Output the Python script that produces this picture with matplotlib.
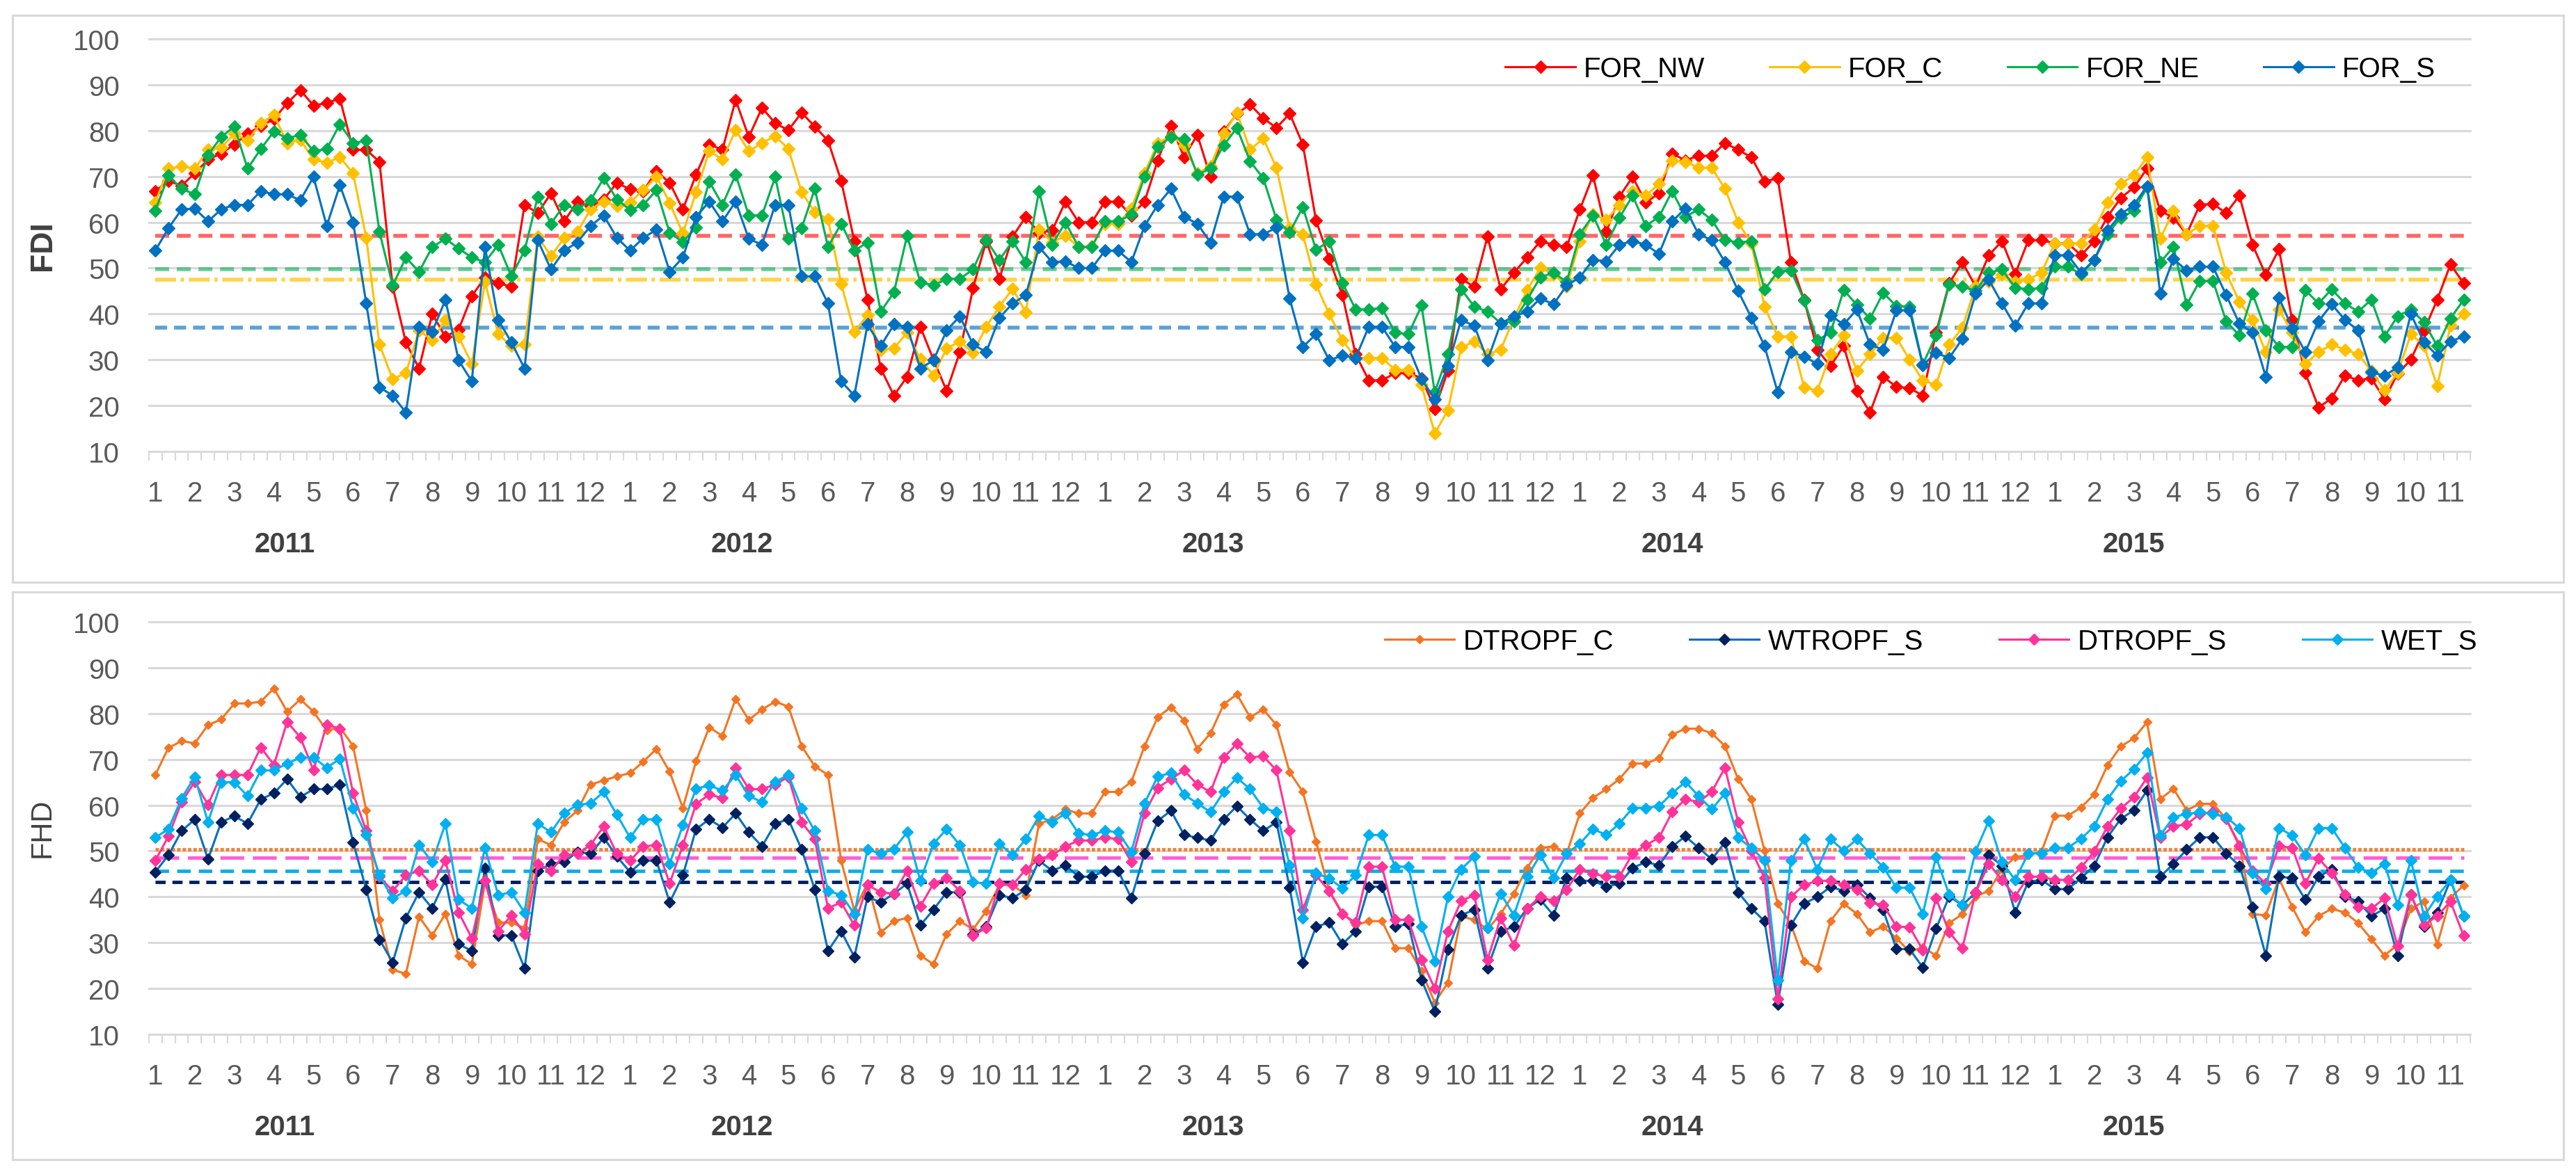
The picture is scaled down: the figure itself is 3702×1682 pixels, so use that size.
'''
FDI / FHD dekadal series 2011-2015, two stacked Excel-style line charts.
'''

import numpy as np
import matplotlib
matplotlib.use('Agg')
from matplotlib import pyplot as plt
from matplotlib.patches import Rectangle
from matplotlib.transforms import blended_transform_factory


plt.rcParams['font.family'] = ['Liberation Sans', 'DejaVu Sans']


#(0) Data (three dekads per month, Jan 2011 - Nov 2015):
years  = ['2011', '2012', '2013', '2014', '2015']
months = [str(m) for m in range(1, 13)]*4 + [str(m) for m in range(1, 12)]

for_nw = [66.8, 69, 68, 70.7, 73.7, 75, 77, 79.3, 81, 82.5, 86, 88.8, 85.5, 86, 87, 75.8, 75.8, 73.2, 46, 33.8, 28.1, 40, 35, 36.6, 43.9, 48, 46.7, 46, 63.8, 62, 66.3, 60.2, 64.5, 63.5, 65, 68.6,
          67.2, 66.8, 71.2, 68.6, 62.8, 70.4, 77, 75.8, 86.7, 78.6, 85, 81.6, 80.1, 83.9, 80.9, 77.8, 69.1, 55.9, 43.1, 28.1, 22.2, 26.3, 37.2, 30, 23.2, 31.7, 45.7, 55.9, 47.7, 56.9, 61.2, 57.7, 58.2, 64.5, 60, 60,
          64.5, 64.5, 61.5, 64.5, 73.5, 81.1, 74.2, 79.1, 69.9, 79.8, 83.7, 85.7, 82.7, 80.6, 83.7, 77, 60.4, 52, 44.1, 31.2, 25.5, 25.5, 27.1, 27.1, 26, 19.3, 27.6, 47.7, 45.9, 56.9, 45.4, 49, 52.3, 55.9, 55.1, 54.6,
          62.8, 70.2, 57.9, 65.6, 69.9, 64.3, 66.3, 75, 73.5, 74.5, 74.5, 77.3, 75.8, 74.2, 68.9, 69.6, 51.3, 43.1, 32.2, 28.6, 33, 23.2, 18.5, 26.3, 24.1, 23.8, 22.2, 35.9, 46.7, 51.3, 46, 52.8, 55.9, 48.7, 56.1, 56.1,
          55.4, 55.4, 52.8, 55.9, 61.2, 65.3, 67.6, 71.7, 62.5, 61, 57.4, 63.8, 64, 62, 65.8, 55.1, 48.5, 54.1, 38.7, 27.1, 19.6, 21.6, 26.6, 25.5, 26, 21.4, 27, 30, 36.4, 43.1, 50.8, 46.7]
for_c  = [64.3, 71.7, 72.2, 71.7, 75.8, 76.3, 79.3, 77.8, 81.6, 83.4, 77.3, 78, 73.7, 73, 74.2, 70.7, 56.6, 33.3, 25.8, 27.1, 36.4, 34.3, 38.7, 35, 29.1, 47, 35.6, 33, 33.3, 56.9, 52.6, 56.6, 57.9, 62.8, 64.5, 63.5,
          64.4, 67, 70, 64.2, 57.6, 66.6, 75.5, 73.7, 80.1, 75.5, 77.3, 78.8, 76, 66.6, 62.2, 60.7, 46.6, 36.1, 39.7, 32.2, 32.5, 35.9, 30.2, 26.6, 32.5, 34, 31.5, 37.2, 41.6, 45.5, 40.3, 58.4, 55.6, 57.1, 54.6, 54.8,
          59.7, 59.7, 63, 70.7, 77.3, 78.8, 76.8, 70.7, 72.2, 79.3, 83.9, 75.8, 78.3, 71.9, 58.7, 57.4, 46.4, 40, 34.3, 30.4, 30.4, 30.4, 27.8, 27.8, 24.5, 13.9, 19, 32.7, 34, 31.2, 32.2, 39, 45.2, 50, 48.7, 46,
          55.9, 61.7, 60.5, 63.8, 66.8, 65.8, 68.4, 73.5, 73.2, 71.9, 71.9, 67.3, 60, 55.4, 41.6, 35.1, 35.1, 24, 23.2, 31.2, 35.3, 27.6, 31.2, 34.8, 34.8, 30, 25.5, 24.5, 33.3, 37, 46, 47, 48.5, 47, 47.5, 49,
          55.4, 55.4, 55.4, 58.4, 64.3, 68.4, 70.2, 74.2, 56.4, 62.5, 57.4, 59.2, 59.2, 49, 42.6, 38.7, 31.7, 41, 36, 29.1, 31.7, 33.3, 32.2, 31.2, 27.6, 23.4, 27.1, 35.6, 33, 24.2, 37.4, 40]
for_ne = [62.5, 70.2, 67.3, 66.1, 74.7, 78.6, 80.9, 71.7, 76, 79.8, 78.3, 79.1, 75.5, 76, 81.4, 77.3, 77.8, 57.9, 46.2, 52.3, 49.2, 54.6, 56.4, 54.3, 52.3, 51.3, 55.1, 48.2, 53.8, 65.6, 59.7, 63.8, 62.8, 64.8, 69.6, 65,
          62.7, 63.8, 67, 57.7, 55.7, 58.9, 68.9, 63.8, 70.4, 61.5, 61.5, 69.9, 56.4, 58.7, 67.3, 54.6, 59.7, 53.8, 55.6, 40.5, 44.7, 57.1, 46.9, 46.2, 47.7, 47.7, 49.7, 56.1, 51.8, 55.9, 51.3, 66.8, 55.1, 60, 54.6, 54.6,
          60.2, 60.2, 61.7, 69.9, 76.5, 78.6, 78.1, 70.4, 71.7, 76.8, 80.6, 73.3, 69.6, 60.6, 57.8, 63.3, 54, 55.9, 46.8, 41, 41, 41.3, 35.9, 35.6, 41.8, 22.9, 31.2, 45.4, 41.6, 40.5, 38, 38.4, 43.1, 48, 49, 47,
          57.4, 61.5, 55.1, 61, 65.8, 59.2, 61.2, 66.8, 61.2, 62.8, 60.5, 56.1, 55.6, 55.9, 45.3, 49.2, 49.5, 43, 34.3, 35.9, 45.2, 42, 39, 44.6, 41.7, 41.6, 29, 35.3, 46.5, 46, 45, 49, 49.7, 45.7, 45.4, 45.7,
          50.3, 50.3, 48.7, 51.8, 57.4, 61, 62.5, 67.6, 51.3, 54.6, 42, 47.2, 47.2, 38.4, 35.3, 44.4, 36.4, 32.8, 32.8, 45.2, 42.3, 45.4, 42.3, 40.5, 43.1, 35.1, 39.5, 41, 38.2, 33, 39, 43.1]
for_s  = [53.8, 58.7, 62.8, 63, 60.2, 62.8, 63.8, 63.8, 66.8, 66.1, 66.1, 64.8, 69.9, 59.2, 68.1, 60, 42.3, 24, 22.2, 18.5, 37.2, 36.1, 43.1, 29.9, 25.3, 54.6, 38.7, 33.8, 28.1, 56.1, 49.7, 53.8, 55.6, 59.2, 61.5, 56.6,
          53.8, 56.6, 58.4, 49.2, 52.3, 61.2, 64.5, 60.2, 64.5, 56.4, 55.1, 63.8, 63.8, 48.2, 48.2, 42.3, 25.3, 22.2, 37.7, 33, 37.7, 37.2, 28.1, 29.9, 36.4, 39.5, 33.3, 31.7, 39.2, 42.3, 44.1, 54.6, 51.3, 51.5, 50, 50,
          53.8, 53.8, 51.3, 59.2, 63.8, 67.3, 61.2, 59.7, 55.6, 65.6, 65.6, 57.4, 57.4, 58.8, 43.4, 32.8, 35.6, 29.9, 30.9, 30.4, 37.2, 37.2, 32.8, 32.8, 25.8, 21.4, 28.6, 38.7, 37.4, 29.9, 37.9, 39.5, 40.5, 43.4, 42.1, 46.2,
          48, 51.8, 51.5, 55.1, 55.9, 55.1, 53.1, 60.2, 63, 57.4, 56.1, 51.3, 45, 39.2, 33, 22.9, 31.7, 30.7, 29.1, 39.7, 37.7, 41, 33.3, 32.2, 40.8, 40.8, 28.8, 31.5, 30.4, 34.6, 44.4, 47.5, 42.3, 37.4, 42.3, 42.3,
          52.8, 52.8, 49, 51.8, 58.2, 61.7, 63.8, 67.9, 44.4, 52, 49.5, 50.3, 50.3, 44.1, 37.9, 35.9, 26.3, 43.6, 36.9, 31.7, 38.4, 42.1, 38.7, 36.4, 27.3, 26.5, 28.4, 40, 33.8, 30.9, 34, 35.1]

dtropf_c = [66.6, 72.5, 74, 73.5, 77.5, 78.7, 82.2, 82.2, 82.6, 85.5, 80.4, 83.1, 80.4, 76.3, 77, 72.9, 58.8, 35, 24.1, 23.2, 35.7, 31.6, 36.3, 27.2, 25.3, 43.2, 34.4, 34.4, 33.2, 52.6, 51.3, 56.3, 58.8, 64.5, 65.4, 66.3,
            67, 69.5, 72.3, 67.3, 59.4, 69.6, 77, 75.1, 83.2, 78.6, 80.9, 82.6, 81.5, 72.9, 68.5, 66.6, 47.9, 37, 43, 32.2, 34.7, 35.4, 27.2, 25.3, 31.9, 34.7, 32.9, 36.9, 42.6, 42.6, 40.4, 56, 56.9, 59.1, 58.2, 58.2,
            62.9, 62.9, 65.1, 72.9, 79.2, 81.4, 78.5, 72.3, 75.7, 82, 84.2, 79.2, 80.9, 77.5, 67.2, 62.9, 52.1, 41.3, 36.5, 33.8, 34.7, 34.7, 28.8, 28.8, 23.8, 16.9, 21.3, 35.7, 35, 32.9, 36.3, 40.7, 46.3, 50.7, 51, 49.4,
            58.2, 61.6, 63.5, 65.7, 69.1, 69.1, 70.2, 75.4, 76.7, 76.7, 75.7, 72.9, 65.7, 61.3, 50.1, 38.5, 34, 26, 24.4, 34.7, 38.5, 36.3, 32.3, 33.5, 31, 28, 29, 27.2, 34.3, 36.2, 40.1, 41.3, 46, 48.7, 49.1, 49.9,
            57.7, 57.7, 59.5, 62.4, 68.7, 72.8, 74.6, 78.1, 61.3, 63.6, 58.9, 60.3, 60.3, 57, 51.5, 36.2, 36, 44, 37.8, 32.3, 35.8, 37.4, 36.6, 34.3, 30.8, 27.2, 29.6, 37.4, 39, 29.6, 39.8, 42.5]
wtropf_s = [45.4, 49.1, 54.4, 56.9, 48.2, 56.3, 57.6, 56, 61.3, 62.6, 65.7, 61.8, 63.5, 63.5, 64.5, 51.9, 41.6, 30.7, 25.7, 35.4, 41, 37.5, 43.8, 29.7, 28.2, 46.3, 31.6, 31.6, 24.4, 45.7, 47.2, 47.6, 49.8, 49.4, 52.9, 48.8,
            45.4, 47.9, 47.9, 38.8, 44.7, 54.8, 56.9, 55.1, 58.2, 54.1, 51, 56, 56.9, 50.4, 41.6, 28.2, 32.5, 26.9, 40, 38.8, 40.7, 42.9, 33.8, 37.2, 41, 41, 31.9, 33.5, 40.4, 39.7, 41.6, 47.9, 45.7, 46.9, 44.4, 44.4,
            45.7, 45.7, 39.7, 49.4, 56.6, 58.8, 53.5, 52.9, 52.3, 56.9, 59.8, 56.9, 54.4, 56.3, 42, 25.7, 33.5, 34.4, 29.7, 32.5, 42.2, 42.2, 33.5, 34.1, 21.9, 15, 28.5, 36, 37.2, 24.4, 32.5, 33.5, 37.5, 39.4, 36, 44.1,
            43.5, 43.5, 42.2, 42.9, 46.3, 47.6, 46.9, 51, 53.2, 50.7, 48.2, 51.9, 41, 37.5, 34.7, 16.6, 33.8, 38.5, 40, 42.2, 41.3, 42.6, 39.8, 37.1, 28.6, 28.6, 24.6, 33, 40.1, 38.2, 40.9, 49.1, 46.8, 36.6, 43.3, 43.7,
            41.7, 41.7, 44.1, 46.8, 53, 57, 58.9, 63.2, 44.4, 47.2, 50.3, 53, 53, 49.5, 46.8, 37.8, 27.2, 44.4, 44.1, 39.4, 44.4, 46, 40.1, 39, 35.8, 37.4, 27.2, 40.5, 33.5, 36.6, 43.7, 35.8]
dtropf_s = [47.9, 53.2, 60.7, 65.1, 60.1, 66.6, 66.6, 66.6, 72.6, 68.8, 78.2, 74.8, 67.6, 77.6, 76.7, 62.6, 54.4, 44.4, 41.3, 44.7, 45.7, 42.6, 47.9, 36.6, 31, 43.5, 32.5, 36, 31.9, 47.2, 45.7, 49.1, 49.4, 51.3, 55.4, 49.4,
            47.9, 51, 51.3, 42.9, 51.3, 60.3, 62.3, 61.6, 68.2, 63.5, 63.5, 64.5, 66.2, 56.3, 52.6, 37.5, 38.8, 33.8, 42.6, 41, 40.7, 45.7, 37.9, 42.9, 44.1, 41.3, 31.6, 33.2, 42.9, 42.6, 46, 48.2, 49.1, 51, 52.3, 52.3,
            52.9, 52.6, 47.6, 58.2, 63.8, 65.7, 67.6, 64.5, 62.9, 70.4, 73.4, 70.4, 70.7, 67.6, 54.4, 37.2, 44.7, 41.3, 36.2, 34.4, 46.6, 46.6, 35, 35, 26.3, 20, 32.5, 39.1, 40.4, 26.3, 35.4, 29.4, 37.5, 40, 39.1, 41.6,
            46, 45.1, 44.4, 44.4, 49.4, 51.3, 52.9, 58.5, 61.3, 60.7, 62.9, 68.2, 56.3, 50.1, 44.1, 17.8, 40, 42.6, 43.5, 43.5, 42.6, 41.5, 38.7, 38.3, 33.5, 33.4, 28.4, 39.7, 32.3, 28.8, 40.9, 47.2, 43.7, 40.1, 44.4, 44.4,
            43.7, 43.7, 46.4, 49.9, 55.4, 59.3, 61.7, 66, 53, 55.4, 55.8, 58.1, 58.5, 57, 51.1, 45.6, 42.9, 51.1, 50.7, 42.9, 48.4, 45.2, 40.5, 37.8, 37.4, 39.7, 29.2, 40.5, 33.9, 35.8, 39, 31.5]
wet_s    = [52.9, 54.8, 61.5, 66.2, 56.3, 65, 65, 62, 67.6, 67.6, 69.1, 70.4, 70.4, 68.2, 70.1, 59.4, 53.5, 44.7, 39.7, 41.3, 51.3, 47.6, 56, 39.4, 37.5, 50.7, 40.4, 41, 36.6, 56, 54.1, 58.2, 60.1, 60.4, 62.9, 57.9,
            52.9, 56.9, 56.9, 47.2, 55.7, 63.6, 64.3, 63.2, 66.6, 62, 60.7, 65.1, 66.6, 59.4, 54.4, 41.3, 40.4, 36.3, 50.4, 49.4, 50.4, 54.1, 43.5, 51.6, 54.8, 51.3, 43.2, 42.9, 51.6, 49.1, 52.6, 57.6, 56.3, 58.2, 53.8, 53.5,
            54.4, 54.1, 49.8, 60.4, 66.3, 67, 62.3, 60.4, 58.5, 62.9, 66, 63.5, 59.4, 58.5, 46.9, 35.4, 45.2, 44, 41.9, 44.7, 53.5, 53.5, 46.6, 46.6, 33.5, 26, 40, 46, 48.8, 33.2, 40.7, 36, 44.4, 49.1, 44.1, 49.4,
            51.6, 54.8, 53.5, 56, 59.4, 59.4, 59.8, 62.6, 65.1, 62, 59.1, 62.6, 52.9, 50.7, 47.9, 21.9, 47.9, 52.6, 46, 52.6, 50.1, 52.6, 49.4, 46.5, 42, 42, 36.3, 48.7, 40.5, 38.2, 49.9, 56.6, 47.6, 43.7, 49.5, 49.5,
            50.7, 50.7, 52.7, 55.4, 61.3, 65.2, 67.9, 71.4, 53.4, 57.4, 58.1, 58.5, 58.1, 57.4, 55, 45.2, 41.7, 55, 53.4, 49.1, 55, 55, 50.7, 46.4, 45.2, 47.2, 38.2, 48, 35.8, 40.1, 43.7, 35.8]

### long-term means drawn as horizontal reference lines
fdi_means = {'FOR_NW': 57.0, 'FOR_C': 47.5, 'FOR_NE': 49.7, 'FOR_S': 37.0}
fhd_means = {'DTROPF_C': 50.3, 'WTROPF_S': 43.3, 'DTROPF_S': 48.6, 'WET_S': 45.7}

fdi_names = ['FOR_NW', 'FOR_C', 'FOR_NE', 'FOR_S']
fhd_names = ['DTROPF_C', 'WTROPF_S', 'DTROPF_S', 'WET_S']
fdi_data  = [for_nw, for_c, for_ne, for_s]
fhd_data  = [dtropf_c, wtropf_s, dtropf_s, wet_s]


#(1) Styles:
W, H     = 3702, 1683
grid_c   = '#D9D9D9'
tick_c   = '#595959'
fs       = 29
fdi_line = ['#FF0000', '#FFC000', '#00B050', '#0070C0']
fdi_mark = fdi_line
fdi_ms   = [9, 9, 9, 9]
fdi_mean_ls = [(0, (3.6, 2.0)), (0, (5.4, 1.2, 0.9, 1.2)), (0, (3.6, 2.0)), (0, (3.1, 1.8))]
fdi_mean_c  = ['#FF0000', '#FFC000', '#00B050', '#0070C0']
fhd_line = ['#F47521', '#0070C0', '#FF3399', '#00B0F0']
fhd_mark = ['#F47521', '#002060', '#FF3399', '#00B0F0']
fhd_ms   = [6.5, 8.5, 8.5, 8.5]
fhd_mean_ls = [(0, (1.0, 0.6)), (0, (3.0, 2.0)), (0, (7.0, 2.6)), (0, (4.0, 2.4))]
fhd_mean_c  = ['#F47521', '#002060', '#FF33CC', '#00B0F0']

x = np.arange(len(for_nw))


def draw_panel(ax, names, data, means, lcol, mcol, ms, mean_ls, mean_c, mean_alpha, mean_lw):
	ax.set_xlim(-0.5, len(x) - 0.5)
	ax.set_ylim(10, 100)
	for v in range(10, 101, 10):
		ax.axhline(v, color=grid_c, lw=2.2, zorder=0, clip_on=False)
	for k,(nm,y) in enumerate(zip(names, data)):
		ax.plot(x, y, '-', color=lcol[k], lw=2.2, marker='D', ms=ms[k], mfc=mcol[k], mec=mcol[k],
				zorder=3+k, clip_on=False, label=nm)
	for k,nm in enumerate(names):
		ax.plot([0, len(x) - 1], [means[nm]]*2, color=mean_c[k], lw=mean_lw, ls=mean_ls[k],
				alpha=mean_alpha[k], zorder=2, solid_capstyle='butt')
	for s in ax.spines.values():
		s.set_visible(False)
	ax.set_yticks(range(10, 101, 10))
	ax.tick_params(axis='y', length=0, pad=30, labelsize=fs, labelcolor=tick_c)
	ax.set_xticks([])
	ax.set_xticks(np.arange(-0.5, len(x), 1), minor=True)
	ax.tick_params(axis='x', which='minor', length=9, width=1.5, color=grid_c, direction='out')
	tr = blended_transform_factory(ax.transData, ax.transAxes)
	for m,lab in enumerate(months):
		ax.text(3*m, -0.101, lab, transform=tr, ha='center', va='center', size=fs, color=tick_c)
	for xp,yr in zip([9.8, 44.5, 80.2, 115.0, 150.0], years):
		ax.text(xp, -0.224, yr, transform=tr, ha='center', va='center', size=fs, color='#404040', weight='bold')


#(2) Plot:
plt.close('all')
fig = plt.figure(figsize=(W/100, H/100), dpi=100)
fig.patch.set_facecolor('white')

for (y0,y1) in [(23, 838), (852, 1668)]:
	fig.add_artist(Rectangle((18/W, 1 - y1/H), (3684 - 18)/W, (y1 - y0)/H, transform=fig.transFigure,
							 fill=False, edgecolor=grid_c, lw=2.2))

ax0 = fig.add_axes([213.6/W, 1 - 650/H, (3550 - 213.6)/W, 593/H])
ax1 = fig.add_axes([213.6/W, 1 - 1488/H, (3550 - 213.6)/W, 593/H])

draw_panel(ax0, fdi_names, fdi_data, fdi_means, fdi_line, fdi_mark, fdi_ms, fdi_mean_ls, fdi_mean_c, [0.6, 0.7, 0.6, 0.65], 4.0)
draw_panel(ax1, fhd_names, fhd_data, fhd_means, fhd_line, fhd_mark, fhd_ms, fhd_mean_ls, fhd_mean_c, [0.9, 1.0, 0.8, 1.0], 3.5)

fig.text(61/W, 1 - 353/H, 'FDI', rotation=90, ha='center', va='center', size=32, weight='bold', color='#404040')
fig.text(61/W, 1 - 1190/H, 'FHD', rotation=90, ha='center', va='center', size=30, color='#404040')

leg0 = ax0.legend(loc='center right', bbox_to_anchor=(3500/W, 1 - 100/H), bbox_transform=fig.transFigure,
				  ncol=4, frameon=False, fontsize=fs, handlelength=2.5, handletextpad=0.3, columnspacing=2.3,
				  borderpad=0, borderaxespad=0, numpoints=1)
leg1 = ax1.legend(loc='center right', bbox_to_anchor=(3560/W, 1 - 923/H), bbox_transform=fig.transFigure,
				  ncol=4, frameon=False, fontsize=fs, handlelength=2.5, handletextpad=0.3, columnspacing=2.7,
				  borderpad=0, borderaxespad=0, numpoints=1)

fig.savefig('out.png', dpi=100, facecolor='white')
